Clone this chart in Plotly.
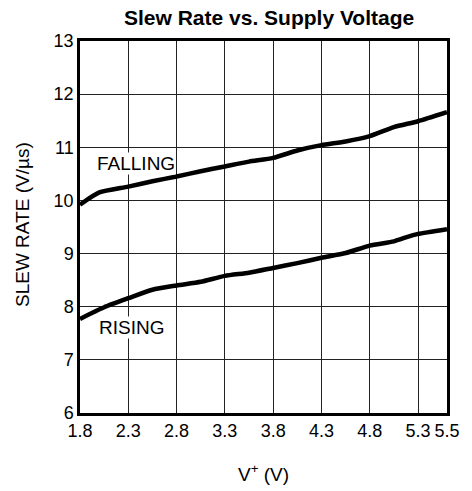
import numpy as np
import plotly.graph_objects as go

# Supply voltage tick labels and their grid column positions
# (the last column, 5.3 V -> 5.5 V, is drawn narrower than the others)
volt_ticks = [1.8, 2.3, 2.8, 3.3, 3.8, 4.3, 4.8, 5.3, 5.5]
tick_pos = [0, 1, 2, 3, 4, 5, 6, 7, 7.6]
tick_text = ["1.8", "2.3", "2.8", "3.3", "3.8", "4.3", "4.8", "5.3", "5.5"]

y_ticks = [6, 7, 8, 9, 10, 11, 12, 13]

# Falling-edge slew rate (V/us) vs supply voltage (V)
falling_v = [1.8, 2.0, 2.3, 2.55, 2.8, 3.05, 3.3, 3.55, 3.8, 4.05, 4.3, 4.55, 4.8, 5.05, 5.3, 5.5]
falling_sr = [9.92, 10.15, 10.26, 10.36, 10.45, 10.55, 10.64, 10.73, 10.80, 10.94, 11.04, 11.11,
              11.21, 11.38, 11.49, 11.66]

# Rising-edge slew rate (V/us) vs supply voltage (V)
rising_v = [1.8, 2.05, 2.3, 2.55, 2.8, 3.05, 3.3, 3.55, 3.8, 4.05, 4.3, 4.55, 4.8, 5.05, 5.2, 5.3, 5.5]
rising_sr = [7.77, 7.99, 8.16, 8.32, 8.40, 8.47, 8.58, 8.64, 8.73, 8.82, 8.92, 9.01, 9.15, 9.23,
             9.32, 9.37, 9.46]


def to_pos(v):
    """Map supply voltage onto the grid's column coordinate."""
    return np.interp(v, volt_ticks, tick_pos)


FONT = "Liberation Sans, Arial, sans-serif"

fig = go.Figure()
for xs, ys in ((falling_v, falling_sr), (rising_v, rising_sr)):
    fig.add_trace(go.Scatter(
        x=to_pos(xs), y=ys, mode="lines",
        line=dict(color="black", width=4.5, shape="spline", smoothing=0.6),
        showlegend=False, hoverinfo="skip",
    ))

fig.add_annotation(x=to_pos(1.97), y=10.69, text="FALLING", showarrow=False,
                   xanchor="left", yanchor="middle", bgcolor="white", borderpad=0,
                   font=dict(family=FONT, size=19, color="black"))
fig.add_annotation(x=to_pos(1.99), y=7.61, text="RISING", showarrow=False,
                   xanchor="left", yanchor="middle", bgcolor="white", borderpad=0,
                   font=dict(family=FONT, size=19, color="black"))

# Titles
fig.add_annotation(text="<b>Slew Rate vs. Supply Voltage</b>", xref="paper", yref="paper",
                   x=0.514, y=1, yshift=24, showarrow=False, xanchor="center", yanchor="middle",
                   font=dict(family=FONT, size=21, color="black"))
fig.add_annotation(text="V<sup>+</sup> (V)", xref="paper", yref="paper",
                   x=0.5, y=0, yshift=-60, showarrow=False, xanchor="center", yanchor="middle",
                   font=dict(family=FONT, size=19, color="black"))
fig.add_annotation(text="SLEW RATE (V/\u00b5s)", xref="paper", yref="paper",
                   x=0, xshift=-58, y=0.5, yshift=2, showarrow=False, textangle=-90,
                   xanchor="center", yanchor="middle",
                   font=dict(family=FONT, size=19, color="black"))

fig.update_xaxes(
    range=[tick_pos[0], tick_pos[-1]], tickvals=tick_pos, ticktext=tick_text,
    showgrid=True, gridcolor="#222", gridwidth=1.2, zeroline=False,
    showline=True, linecolor="black", linewidth=2.5, mirror=True,
    ticks="", ticklen=0, tickfont=dict(family=FONT, size=18, color="black"),
)
fig.update_yaxes(
    range=[6, 13], tickvals=y_ticks,
    showgrid=True, gridcolor="#222", gridwidth=1.2, zeroline=False,
    showline=True, linecolor="black", linewidth=2.5, mirror=True,
    ticks="", ticklen=0, tickfont=dict(family=FONT, size=18, color="black"),
)

fig.update_layout(
    width=472, height=491,
    margin=dict(l=80, r=20, t=41, b=78),
    paper_bgcolor="white", plot_bgcolor="white",
    font=dict(family=FONT, color="black"),
)

fig.write_html("out.html")
